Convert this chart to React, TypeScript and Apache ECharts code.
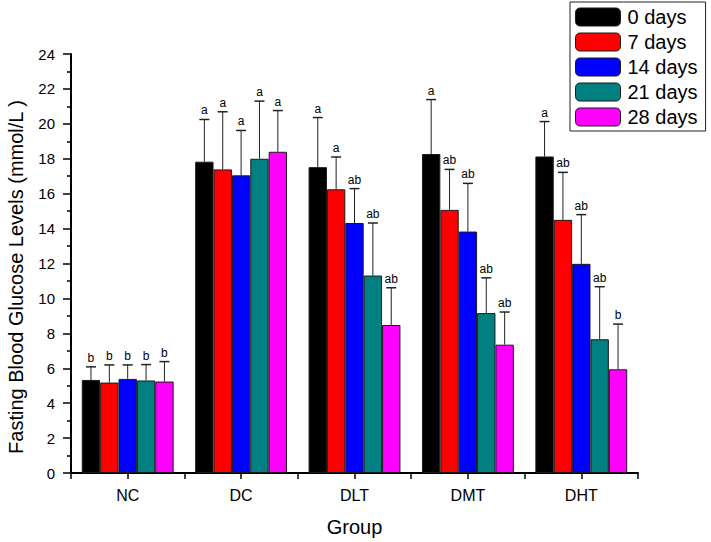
import React, { useEffect, useRef } from "react";
import * as echarts from "echarts";

const groups = ["NC", "DC", "DLT", "DMT", "DHT"];
const seriesNames = ["0 days", "7 days", "14 days", "21 days", "28 days"];
const colors = ["#000000", "#FF0000", "#0000FF", "#008080", "#FF00FF"];

// means per series (rows) for each group (cols)
const day0 = [5.33, 17.83, 17.52, 18.27, 18.13];
const day7 = [5.18, 17.39, 16.25, 15.07, 14.5];
const day14 = [5.39, 17.05, 14.32, 13.83, 11.98];
const day21 = [5.3, 18.0, 11.31, 9.16, 7.66];
const day28 = [5.24, 18.4, 8.48, 7.35, 5.94];

// upper end of error bars (mean + SD)
const err0 = [6.08, 20.25, 20.36, 21.39, 20.13];
const err7 = [6.19, 20.69, 18.1, 17.39, 17.22];
const err14 = [6.19, 19.62, 16.29, 16.59, 14.8];
const err21 = [6.21, 21.3, 14.32, 11.18, 10.67];
const err28 = [6.38, 20.76, 10.61, 9.22, 8.53];

// significance letters
const sig0 = ["b", "a", "a", "a", "a"];
const sig7 = ["b", "a", "a", "ab", "ab"];
const sig14 = ["b", "a", "ab", "ab", "ab"];
const sig21 = ["b", "a", "ab", "ab", "ab"];
const sig28 = ["b", "a", "ab", "ab", "b"];

const yTicks = [0, 24, 2];
const yTitle = "Fasting Blood Glucose Levels (mmol/L )";
const xTitle = "Group";

const means = [day0, day7, day14, day21, day28];
const errs = [err0, err7, err14, err21, err28];
const sigs = [sig0, sig7, sig14, sig21, sig28];

const CAT_GAP = 0.19;

export default function App() {
  const ref = useRef<HTMLDivElement>(null);
  useEffect(() => {
    if (!ref.current) return;
    const chart = echarts.init(ref.current, undefined, { renderer: "svg" });
    const font = "Liberation Sans, Arial, sans-serif";

    const errData: any[] = [];
    for (let s = 0; s < 5; s++) {
      for (let g = 0; g < 5; g++) {
        errData.push([g, s, means[s][g], errs[s][g], sigs[s][g]]);
      }
    }

    const barSeries = seriesNames.map((name, i) => ({
      name,
      type: "bar",
      data: means[i],
      barGap: "0%",
      barCategoryGap: CAT_GAP * 100 + "%",
      itemStyle: { color: colors[i], borderColor: "#1a1a1a", borderWidth: 1 },
      xAxisIndex: 0,
    }));

    const option: any = {
      animation: false,
      grid: { left: 71, top: 54, right: 73, bottom: 68 },
      graphic: [
        {
          type: "text",
          x: 16,
          y: 277,
          rotation: Math.PI / 2,
          style: {
            text: yTitle,
            fontFamily: font,
            fontSize: 20,
            fill: "#000",
            textAlign: "center",
            textVerticalAlign: "middle",
          },
        },
      ],
      legend: {
        orient: "vertical",
        left: 570,
        top: 2,
        itemWidth: 45,
        itemHeight: 18,
        itemGap: 5,
        padding: [5, 8, 4, 5],
        borderColor: "#222",
        borderWidth: 1,
        borderRadius: 0,
        data: seriesNames,
        textStyle: { fontFamily: font, fontSize: 20, color: "#000", padding: [0, 0, 0, 2] },
        itemStyle: { borderColor: "#1a1a1a", borderWidth: 1 },
      },
      xAxis: [
        {
          type: "category",
          data: groups,
          name: xTitle,
          nameLocation: "middle",
          nameGap: 44,
          nameTextStyle: { fontFamily: font, fontSize: 20, color: "#000" },
          axisLine: { lineStyle: { color: "#000", width: 2 } },
          axisTick: { show: true, length: 6, lineStyle: { color: "#000", width: 1.5 } },
          axisLabel: { fontFamily: font, fontSize: 16, color: "#000", margin: 14 },
          splitLine: { show: false },
        },
        {
          type: "category",
          data: groups,
          position: "bottom",
          axisLine: { show: false },
          axisTick: { show: true, alignWithLabel: true, length: 6, lineStyle: { color: "#000", width: 1.5 } },
          axisLabel: { show: false },
          splitLine: { show: false },
        },
      ],
      yAxis: {
        type: "value",
        min: yTicks[0],
        max: yTicks[1],
        interval: yTicks[2],
        axisLine: { show: true, lineStyle: { color: "#000", width: 2 } },
        axisTick: { show: true, length: 8, lineStyle: { color: "#000", width: 1.5 } },
        minorTick: { show: true, splitNumber: 2, length: 4, lineStyle: { color: "#000", width: 1.5 } },
        axisLabel: { fontFamily: font, fontSize: 15, color: "#000", margin: 16 },
        splitLine: { show: false },
      },
      series: [
        ...barSeries,
        {
          type: "custom",
          name: "err",
          xAxisIndex: 0,
          z: 5,
          data: errData,
          renderItem: (params: any, api: any) => {
            const g = api.value(0);
            const s = api.value(1);
            const mean = api.value(2);
            const top = api.value(3);
            const label = errData[params.dataIndex][4];
            const catW = api.size([1, 0])[0];
            const barW = (catW * (1 - CAT_GAP)) / 5;
            const center = api.coord([g, 0])[0];
            const x = center + (s - 2) * barW;
            const yMean = api.coord([g, mean])[1];
            const yTop = api.coord([g, top])[1];
            return {
              type: "group",
              children: [
                { type: "line", shape: { x1: x, y1: yMean, x2: x, y2: yTop }, style: { stroke: "#222", lineWidth: 1 } },
                { type: "line", shape: { x1: x - 5, y1: yTop, x2: x + 5, y2: yTop }, style: { stroke: "#222", lineWidth: 1.5 } },
                {
                  type: "text",
                  style: {
                    x: x,
                    y: yTop - 3,
                    text: label,
                    textAlign: "center",
                    textVerticalAlign: "bottom",
                    fontFamily: font,
                    fontSize: 12,
                    fill: "#000",
                  },
                },
              ],
            };
          },
        },
      ],
    };
    chart.setOption(option);
    return () => chart.dispose();
  }, []);
  return <div ref={ref} style={{ width: 711, height: 542, position: "absolute", left: 0, top: 0, background: "#fff" }} />;
}
